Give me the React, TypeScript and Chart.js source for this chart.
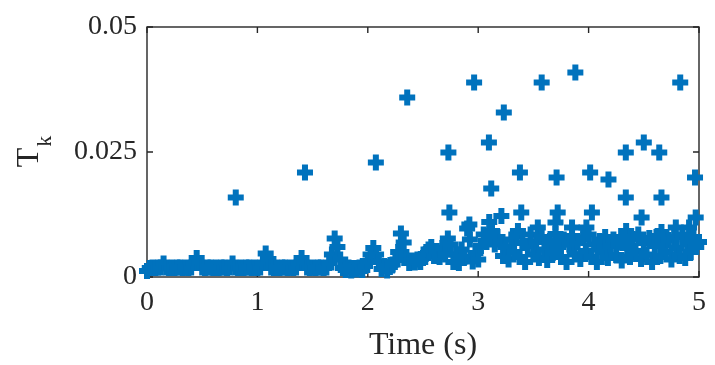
import React, { useEffect, useRef } from 'react';
import { Chart, registerables } from 'chart.js';

Chart.register(...registerables);

// Dense base series, sampled every 0.025 s from 0 to 5 s
const baseStep = 0.025;
const baseValues = [
  0.0012, 0.0018, 0.0019, 0.0018, 0.0019, 0.0019, 0.0027, 0.0019, 0.0018, 0.0019,
  0.0018, 0.0019, 0.0019, 0.0018, 0.0019, 0.0018, 0.0019, 0.0028, 0.0038, 0.0028,
  0.0019, 0.0018, 0.0019, 0.0019, 0.0018, 0.0019, 0.0018, 0.0019, 0.0019, 0.0018,
  0.0019, 0.0027, 0.0019, 0.0018, 0.0019, 0.0018, 0.0019, 0.0019, 0.0018, 0.0019,
  0.0018, 0.0019, 0.0028, 0.0047, 0.0036, 0.0019, 0.0018, 0.0019, 0.0018, 0.0019,
  0.0019, 0.0018, 0.0019, 0.0018, 0.0019, 0.0028, 0.0038, 0.0028, 0.0019, 0.0018,
  0.0019, 0.0018, 0.0019, 0.0019, 0.0018, 0.0019, 0.0028, 0.0045, 0.0077, 0.0060,
  0.0035, 0.0018, 0.0014, 0.0019, 0.0013, 0.0018, 0.0015, 0.0019, 0.0014, 0.0022,
  0.0032, 0.0045, 0.0058, 0.0045, 0.0030, 0.0016, 0.0022, 0.0013, 0.0020, 0.0025,
  0.0034, 0.0050, 0.0087, 0.0069, 0.0040, 0.0028, 0.0033, 0.0029, 0.0035, 0.0030,
  0.0038, 0.0046, 0.0055, 0.0060, 0.0042, 0.0052, 0.0040, 0.0058, 0.0045, 0.0077,
  0.0065, 0.0030, 0.0045, 0.0028, 0.0055, 0.0040, 0.0097, 0.0075, 0.0031, 0.0048,
  0.0035, 0.0062, 0.0085, 0.0070, 0.0110, 0.0092, 0.0065, 0.0080, 0.0070, 0.0042,
  0.0060, 0.0035, 0.0075, 0.0050, 0.0082, 0.0040, 0.0068, 0.0030, 0.0062, 0.0085,
  0.0045, 0.0070, 0.0038, 0.0080, 0.0055, 0.0034, 0.0072, 0.0048, 0.0086, 0.0060,
  0.0040, 0.0075, 0.0030, 0.0065, 0.0082, 0.0045, 0.0070, 0.0036, 0.0078, 0.0052,
  0.0085, 0.0040, 0.0065, 0.0030, 0.0072, 0.0050, 0.0080, 0.0038, 0.0062, 0.0075,
  0.0044, 0.0070, 0.0033, 0.0080, 0.0058, 0.0040, 0.0076, 0.0052, 0.0085, 0.0036,
  0.0068, 0.0045, 0.0078, 0.0030, 0.0062, 0.0082, 0.0042, 0.0070, 0.0050, 0.0074,
  0.0035, 0.0080, 0.0058, 0.0042, 0.0085, 0.0038, 0.0066, 0.0050, 0.0078, 0.0060,
  0.0070,
];

// Isolated higher points
const spikeTimes = [
  0.804, 1.431, 2.073, 2.357, 2.73, 2.963, 3.097, 3.232, 3.378, 3.575,
  3.71, 3.88, 4.014, 4.18, 4.337, 4.5, 4.64, 4.83, 4.964, 3.118,
  2.739, 3.39, 3.72, 4.03, 4.337, 4.66, 4.48, 4.97, 3.21, 2.92,
  3.54, 3.85, 4.79, 3.36, 3.7, 3.98, 4.34, 4.66, 4.91,
];
const spikeValues = [
  0.0159, 0.0209, 0.0229, 0.0359, 0.0249, 0.0389, 0.0269, 0.0329, 0.0209, 0.0389,
  0.0199, 0.0409, 0.0209, 0.0195, 0.0249, 0.0269, 0.0249, 0.0389, 0.0199, 0.0177,
  0.0129, 0.0129, 0.0129, 0.0129, 0.0159, 0.0159, 0.0119, 0.0119, 0.0122, 0.0105,
  0.0099, 0.0099, 0.0099, 0.0092, 0.0109, 0.0099, 0.0092, 0.009, 0.0099,
];

const xTickValues = [0, 1, 2, 3, 4, 5];
const xTickLabels = ['0', '1', '2', '3', '4', '5'];
const yTickValues = [0, 0.025, 0.05];
const yTickLabels = ['0', '0.025', '0.05'];
const xTitle = 'Time (s)';
const yTitleMain = 'T';
const yTitleSub = 'k';

const FONT = '"Liberation Serif", "DejaVu Serif", serif';
const TEXT = '#262626';
const BLUE = '#0072BD';

export default function App() {
  const ref = useRef<HTMLCanvasElement>(null);

  useEffect(() => {
    if (!ref.current) return;
    const basePoints = baseValues.map((v, i) => ({ x: Math.round(i * baseStep * 1000) / 1000, y: v }));
    const spikePoints = spikeTimes.map((t, i) => ({ x: t, y: spikeValues[i] }));

    const framePlugin = {
      id: 'frame',
      beforeDatasetsDraw(chart: any) {
        const { ctx, chartArea: a, scales } = chart;
        ctx.save();
        ctx.strokeStyle = TEXT;
        ctx.lineWidth = 1.4;
        ctx.strokeRect(a.left, a.top, a.right - a.left, a.bottom - a.top);
        const tl = 6;
        ctx.beginPath();
        xTickValues.forEach((v) => {
          const px = scales.x.getPixelForValue(v);
          ctx.moveTo(px, a.bottom);
          ctx.lineTo(px, a.bottom - tl);
          ctx.moveTo(px, a.top);
          ctx.lineTo(px, a.top + tl);
        });
        yTickValues.forEach((v) => {
          const py = scales.y.getPixelForValue(v);
          ctx.moveTo(a.left, py);
          ctx.lineTo(a.left + tl, py);
          ctx.moveTo(a.right, py);
          ctx.lineTo(a.right - tl, py);
        });
        ctx.stroke();

        // y-axis title with subscript
        const cy = (a.top + a.bottom) / 2;
        ctx.translate(38, cy);
        ctx.rotate(-Math.PI / 2);
        ctx.fillStyle = TEXT;
        ctx.textBaseline = 'alphabetic';
        ctx.textAlign = 'left';
        ctx.font = `32px ${FONT}`;
        const wT = ctx.measureText(yTitleMain).width;
        ctx.font = `22px ${FONT}`;
        const wK = ctx.measureText(yTitleSub).width;
        const start = -(wT + wK) / 2;
        ctx.font = `32px ${FONT}`;
        ctx.fillText(yTitleMain, start, 0);
        ctx.font = `22px ${FONT}`;
        ctx.fillText(yTitleSub, start + wT + 1, 13);
        ctx.restore();
      },
    };

    const chart = new Chart(ref.current, {
      type: 'scatter',
      data: {
        datasets: [
          {
            data: basePoints,
            pointStyle: 'cross',
            pointRadius: 8,
            pointBorderWidth: 6,
            borderColor: BLUE,
            backgroundColor: BLUE,
            pointHoverRadius: 8,
            clip: false as any,
          },
          {
            data: spikePoints,
            pointStyle: 'cross',
            pointRadius: 8,
            pointBorderWidth: 6,
            borderColor: BLUE,
            backgroundColor: BLUE,
            pointHoverRadius: 8,
            clip: false as any,
          },
        ],
      },
      options: {
        animation: false,
        responsive: true,
        maintainAspectRatio: false,
        layout: { padding: { left: 0, top: 27, right: 10, bottom: 0 } },
        plugins: {
          legend: { display: false },
          tooltip: { enabled: false },
        },
        scales: {
          x: {
            type: 'linear',
            min: 0,
            max: 5,
            grid: { display: false, drawTicks: false },
            border: { display: false },
            afterBuildTicks: (s: any) => {
              s.ticks = xTickValues.map((v) => ({ value: v }));
            },
            afterFit: (s: any) => {
              s.height = 88;
            },
            ticks: {
              color: TEXT,
              font: { family: FONT, size: 28 },
              padding: 9,
              maxRotation: 0,
              callback: (v: any) => xTickLabels[xTickValues.indexOf(Number(v))] ?? '',
            },
            title: {
              display: true,
              text: xTitle,
              color: TEXT,
              font: { family: FONT, size: 32 },
              padding: { top: 0, bottom: 0 },
            },
          },
          y: {
            type: 'linear',
            min: 0,
            max: 0.05,
            grid: { display: false, drawTicks: false },
            border: { display: false },
            afterBuildTicks: (s: any) => {
              s.ticks = yTickValues.map((v) => ({ value: v }));
            },
            afterFit: (s: any) => {
              s.width = 147;
            },
            ticks: {
              color: TEXT,
              font: { family: FONT, size: 28 },
              padding: 10,
              callback: (v: any) => yTickLabels[yTickValues.indexOf(Number(v))] ?? '',
            },
          },
        },
      },
      plugins: [framePlugin],
    });
    return () => chart.destroy();
  }, []);

  return (
    <div style={{ position: 'absolute', left: 0, top: 0, width: 715, height: 365, background: '#fff' }}>
      <canvas ref={ref} />
    </div>
  );
}
